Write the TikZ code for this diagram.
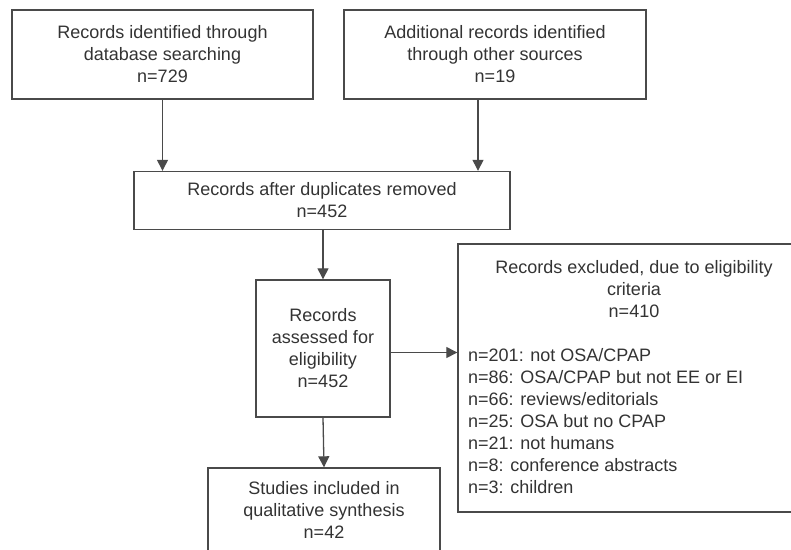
\documentclass[tikz,border=0pt]{standalone}
\usepackage{fontspec}
\setmainfont{Liberation Sans}
\usetikzlibrary{arrows.meta}
\definecolor{ink}{HTML}{333333}
\definecolor{frame}{HTML}{4A4A4A}
\newcommand{\flowfont}{\fontsize{18}{22}\selectfont}
\tikzset{
 every node/.append style={font=\flowfont,text=ink,align=center},
 box/.style={draw=frame,line width=1.4pt,inner sep=0pt},
 word/.style={inner sep=0pt},
 flow/.style={-{Triangle[length=11pt,width=11pt]},draw=frame,line width=1.3pt},
}

\begin{document}
\begin{tikzpicture}[x=1pt,y=-1pt]
\useasboundingbox (0,0) rectangle (791,549);

\node[box,minimum width=301,minimum height=89] (db) at (162.5,54.5) {Records identified through\\database searching\\n=729};
\node[box,minimum width=302,minimum height=89] (other) at (495,54.5) {Additional records identified\\through other sources\\n=19};
\node[box,minimum width=376,minimum height=58] (dup) at (322,200.5) {Records after duplicates removed\\n=452};
\node[box,minimum width=134,minimum height=137] (assess) at (323,348.5) {Records\\assessed for\\eligibility\\n=452};
\node[box,minimum width=352,minimum height=268] (excl) at (634,378) {};
\node[word] (exclhead) at (634,289) {Records excluded, due to eligibility\\criteria\\n=410};
\node[word,align=left,anchor=west] (excllist) at (468,421) {n=201: not OSA/CPAP\\n=86: OSA/CPAP but not EE or EI\\n=66: reviews/editorials\\n=25: OSA but no CPAP\\n=21: not humans\\n=8: conference abstracts\\n=3: children};
\node[box,minimum width=232,minimum height=84] (studies) at (324,510) {Studies included in\\qualitative synthesis\\n=42};

\coordinate (otherdown) at (478,99);
\draw[flow] (db.south) -- (db.south |- dup.north);
\draw[flow] (otherdown) -- (otherdown |- dup.north);
\draw[flow] (dup.south -| assess.north) -- (assess.north);
\draw[flow] ([yshift=-4pt]assess.east) -- ([yshift=-4pt]assess.east -| excl.west);
\draw[flow] (assess.south) -- (studies.north);

\end{tikzpicture}
\end{document}
